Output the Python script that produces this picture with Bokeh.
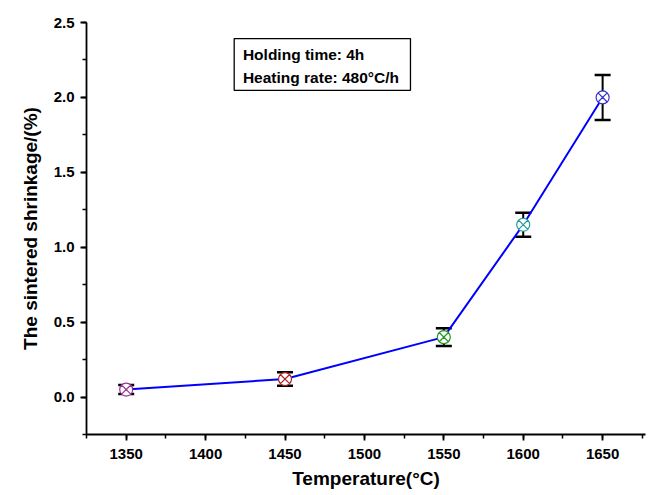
from bokeh.plotting import figure
from bokeh.models import (ColumnDataSource, Whisker, TeeHead, FixedTicker, Label,
                          BoxAnnotation, Range1d, CustomJSTickFormatter)
from bokeh.embed import file_html
from bokeh.resources import INLINE

temperature = [1350, 1450, 1550, 1600, 1650]
shrinkage = [0.05, 0.12, 0.40, 1.15, 2.00]
error = [0.03, 0.045, 0.06, 0.08, 0.15]
marker_colors = ["#993399", "#aa2222", "#229922", "#229999", "#3333cc"]
x_ticks = [1350, 1400, 1450, 1500, 1550, 1600, 1650]
y_ticks = [0.0, 0.5, 1.0, 1.5, 2.0, 2.5]

FONT = "Liberation Sans"

src = ColumnDataSource(dict(
    x=temperature, y=shrinkage,
    upper=[s + e for s, e in zip(shrinkage, error)],
    lower=[s - e for s, e in zip(shrinkage, error)],
    color=marker_colors,
))

p = figure(width=649, height=495, output_backend="svg", toolbar_location=None,
           x_range=Range1d(1325, 1677), y_range=Range1d(-0.25, 2.5))
p.min_border_left = 86
p.min_border_right = 4
p.min_border_top = 22
p.min_border_bottom = 61
p.outline_line_color = None
p.xgrid.visible = False
p.ygrid.visible = False

p.line("x", "y", source=src, line_color="#0000ff", line_width=2)

w = Whisker(base="x", upper="upper", lower="lower", source=src,
            line_color="black", line_width=2,
            upper_head=TeeHead(size=16, line_width=2.5, line_color="black"),
            lower_head=TeeHead(size=16, line_width=2.5, line_color="black"))
p.add_layout(w)

p.scatter("x", "y", source=src, marker="circle_x", size=13,
          fill_color="white", line_color="color", line_width=1.2)

box = BoxAnnotation(left=1418, right=1529, bottom=2.047, top=2.393,
                    fill_color="white", fill_alpha=1.0,
                    line_color="black", line_width=1.3, line_alpha=1.0)
p.add_layout(box)
p.add_layout(Label(x=1423.5, y=2.286, text="Holding time: 4h", text_font=FONT,
                   text_font_style="bold", text_font_size="15.5px",
                   text_baseline="middle", text_color="black"))
p.add_layout(Label(x=1423.5, y=2.133, text="Heating rate: 480°C/h", text_font=FONT,
                   text_font_style="bold", text_font_size="15.5px",
                   text_baseline="middle", text_color="black"))

p.xaxis.ticker = FixedTicker(ticks=x_ticks,
                             minor_ticks=[1325 + 25 * i for i in range(15)])
p.yaxis.ticker = FixedTicker(ticks=y_ticks,
                             minor_ticks=[-0.25 + 0.25 * i for i in range(12)])

for ax in (p.xaxis[0], p.yaxis[0]):
    ax.axis_line_width = 1.8
    ax.axis_line_color = "black"
    ax.major_tick_line_color = "black"
    ax.minor_tick_line_color = "black"
    ax.major_tick_line_width = 1.8
    ax.minor_tick_line_width = 1.5
    ax.major_tick_out = 6
    ax.major_tick_in = 0
    ax.minor_tick_out = 4
    ax.minor_tick_in = 0
    ax.major_label_text_font = FONT
    ax.major_label_text_font_style = "bold"
    ax.major_label_text_font_size = "15px"
    ax.major_label_text_color = "black"
    ax.axis_label_text_font = FONT
    ax.axis_label_text_font_style = "bold"
    ax.axis_label_text_font_size = "19px"
    ax.axis_label_text_color = "black"

p.xaxis.axis_label = "Temperature(°C)"
p.yaxis.axis_label = "The sintered shrinkage/(%)"
p.xaxis.major_label_standoff = 8
p.yaxis.major_label_standoff = 6
p.xaxis.axis_label_standoff = 6
p.yaxis.axis_label_standoff = 10
p.yaxis.formatter = CustomJSTickFormatter(code="return tick.toFixed(1);")

open("out.html", "w").write(file_html(p, INLINE))
